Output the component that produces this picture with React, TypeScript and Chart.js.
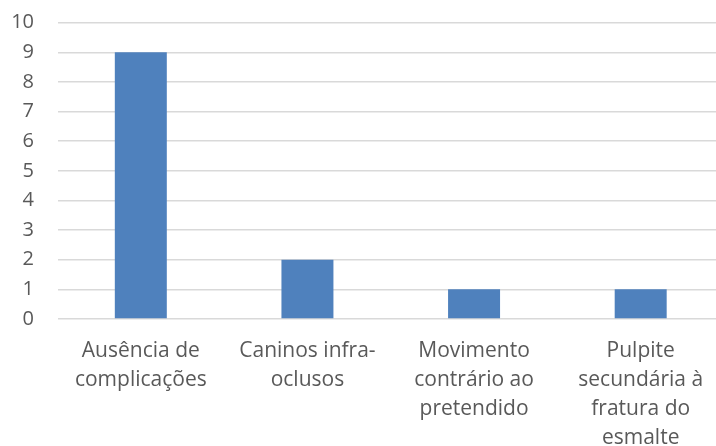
import React, { useEffect, useRef } from "react";
import { Chart, registerables } from "chart.js";

Chart.register(...registerables);

const categories: string[][] = [
  ["Ausência de", "complicações"],
  ["Caninos infra-", "oclusos"],
  ["Movimento", "contrário ao", "pretendido"],
  ["Pulpite", "secundária à", "fratura do", "esmalte"],
];
const values: number[] = [9, 2, 1, 1];
const yMin = 0;
const yMax = 10;
const yStep = 1;

export default function App() {
  const ref = useRef<HTMLCanvasElement | null>(null);
  useEffect(() => {
    if (!ref.current) return;
    const chart = new Chart(ref.current, {
      type: "bar",
      data: {
        labels: categories,
        datasets: [
          {
            data: values,
            backgroundColor: "#4F81BD",
            borderWidth: 0,
            barPercentage: 1,
            categoryPercentage: 0.312,
          },
        ],
      },
      options: {
        responsive: false,
        animation: false,
        layout: { padding: { top: 22.7, right: 0, left: 0, bottom: 0 } },
        plugins: { legend: { display: false }, tooltip: { enabled: false } },
        scales: {
          x: {
            grid: { display: false, drawTicks: false },
            border: { display: false },
            ticks: {
              color: "#595959",
              font: { family: "Open Sans", size: 21, lineHeight: 1.39 },
              padding: 17,
              maxRotation: 0,
              autoSkip: false,
            },
            afterFit: (s: any) => {
              s.height = 446 - 319;
            },
          },
          y: {
            min: yMin,
            max: yMax,
            grid: { color: "#D9D9D9", lineWidth: 1.5, drawTicks: false },
            border: { display: false },
            ticks: {
              stepSize: yStep,
              color: "#595959",
              font: { family: "Open Sans", size: 20 },
              padding: 23.5,
            },
            afterFit: (s: any) => {
              s.width = 57.5;
              s.paddingTop = 0;
              s.paddingBottom = 0;
            },
          },
        },
      },
    });
    return () => chart.destroy();
  }, []);
  return (
    <div style={{ position: "fixed", left: 0, top: 0, width: 716, height: 446, overflow: "hidden", background: "#fff" }}>
      <canvas ref={ref} width={724} height={446} style={{ display: "block" }} />
    </div>
  );
}
